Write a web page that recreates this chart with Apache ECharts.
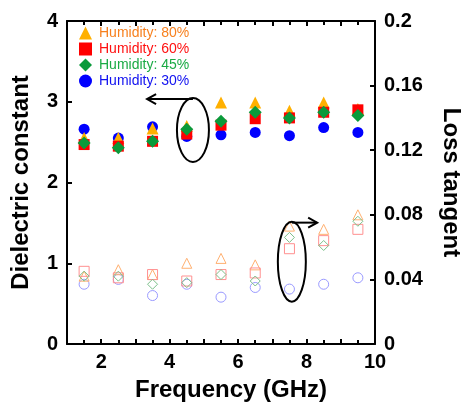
<!DOCTYPE html>
<html>
<head>
<meta charset="utf-8">
<script src="https://cdn.jsdelivr.net/npm/echarts@6/dist/echarts.min.js"></script>
<style>
    html, body { margin: 0; padding: 0; background: #fff; }
    #chart { width: 465px; height: 407px; }
</style>
</head>
<body>
<div id="chart"></div>
<script>
/* ------ data ------ */

var freq = [1.5, 2.5, 3.5, 4.5, 5.5, 6.5, 7.5, 8.5, 9.5];

// dielectric constant (filled markers, left axis)
var eps80 = [2.55, 2.55, 2.67, 2.70, 2.99, 2.99, 2.89, 2.99, 2.91];
var eps60 = [2.47, 2.45, 2.51, 2.60, 2.71, 2.79, 2.80, 2.87, 2.90];
var eps45 = [2.49, 2.43, 2.51, 2.66, 2.76, 2.87, 2.80, 2.87, 2.83];
var eps30 = [2.66, 2.55, 2.69, 2.57, 2.59, 2.62, 2.58, 2.68, 2.62];

// loss tangent (hollow markers, right axis)
var tan80 = [0.042, 0.046, 0.043, 0.050, 0.053, 0.049, 0.073, 0.071, 0.080];
var tan60 = [0.045, 0.041, 0.043, 0.039, 0.043, 0.044, 0.059, 0.064, 0.071];
var tan45 = [0.042, 0.042, 0.037, 0.038, 0.043, 0.039, 0.066, 0.061, 0.076];
var tan30 = [0.037, 0.040, 0.030, 0.037, 0.029, 0.035, 0.034, 0.037, 0.041];

var xTickLabels = ['2', '4', '6', '8', '10'];
var leftTickLabels = ['0', '1', '2', '3', '4'];
var rightTickLabels = ['0', '0.04', '0.08', '0.12', '0.16', '0.2'];

var names = ['Humidity: 80%', 'Humidity: 60%', 'Humidity: 45%', 'Humidity: 30%'];

/* ------ helpers ------ */

function pairs(xs, ys) {
    var out = [];
    for (var i = 0; i < xs.length; i++) {
        out.push([xs[i], ys[i]]);
    }
    return out;
}

var font = "'Liberation Sans', Arial, sans-serif";

function filled(name, symbol, size, color) {
    return {
        name: name,
        type: 'scatter',
        symbol: symbol,
        symbolSize: size,
        yAxisIndex: 0,
        itemStyle: { color: color, opacity: 1 },
        emphasis: { disabled: true },
        z: 3
    };
}

function hollow(name, symbol, size, color) {
    return {
        name: name,
        type: 'scatter',
        symbol: symbol,
        symbolSize: size,
        yAxisIndex: 1,
        itemStyle: { color: 'none', borderColor: color, borderWidth: 1, opacity: 1 },
        emphasis: { disabled: true },
        z: 2
    };
}

/* ------ chart ------ */

var chart = echarts.init(document.getElementById('chart'));

var s30 = filled(names[3], 'circle', 11, '#0000FF');
s30.data = pairs(freq, eps30);
var s80 = filled(names[0], 'triangle', 12, '#FFB000');
s80.data = pairs(freq, eps80);
var s60 = filled(names[1], 'rect', 11, '#FF0000');
s60.data = pairs(freq, eps60);
var s45 = filled(names[2], 'diamond', 13, '#0A9A3A');
s45.data = pairs(freq, eps45);

var h30 = hollow('tan 30', 'circle', 10, '#9A9AFF');
h30.data = pairs(freq, tan30);
var h80 = hollow('tan 80', 'triangle', 10, '#FFB070');
h80.data = pairs(freq, tan80);
var h60 = hollow('tan 60', 'rect', 10, '#FF9090');
h60.data = pairs(freq, tan60);
var h45 = hollow('tan 45', 'diamond', 10, '#7CC08A');
h45.data = pairs(freq, tan45);

var axisLine = { show: true, onZero: false, lineStyle: { color: '#000', width: 2 } };
var tick = { show: true, inside: true, length: 5, lineStyle: { color: '#000', width: 2 } };
var minor = { show: true, splitNumber: 2, length: 4, lineStyle: { color: '#000', width: 2 } };

option = {
    backgroundColor: '#fff',
    animation: false,
    textStyle: { fontFamily: font },
    grid: { left: 67, right: 90, top: 21, bottom: 63, outerBoundsMode: 'none', containLabel: false },
    legend: {
        orient: 'vertical',
        left: 74,
        top: 21,
        itemWidth: 13,
        itemHeight: 13,
        itemGap: 2,
        selectedMode: false,
        textStyle: { fontSize: 14, fontFamily: font, padding: [0, 0, 0, 2] },
        data: [
            { name: names[0], textStyle: { color: '#F7801E' } },
            { name: names[1], textStyle: { color: '#FF1010' } },
            { name: names[2], textStyle: { color: '#1AAA44' } },
            { name: names[3], textStyle: { color: '#1010F0' } }
        ]
    },
    xAxis: [
        {
            type: 'value',
            min: 1,
            max: 10,
            interval: 1,
            position: 'bottom',
            name: 'Frequency (GHz)',
            nameLocation: 'middle',
            nameGap: 34,
            nameTextStyle: { fontSize: 24, fontWeight: 'bold', color: '#000', fontFamily: font, padding: [0, 0, 0, 20] },
            axisLine: axisLine,
            axisTick: tick,
            minorTick: minor,
            splitLine: { show: false },
            axisLabel: {
                fontSize: 20, fontWeight: 'bold', color: '#000', margin: 8,
                formatter: function (v) {
                    var s = String(v);
                    return xTickLabels.indexOf(s) >= 0 ? s : '';
                }
            }
        },
        {
            type: 'value',
            min: 1,
            max: 10,
            interval: 1,
            position: 'top',
            axisLine: axisLine,
            axisTick: tick,
            minorTick: minor,
            splitLine: { show: false },
            axisLabel: { show: false }
        }
    ],
    yAxis: [
        {
            type: 'value',
            min: 0,
            max: 4,
            interval: 1,
            position: 'left',
            name: 'Dielectric constant',
            nameLocation: 'middle',
            nameRotate: 90,
            nameGap: 34,
            nameTextStyle: { fontSize: 24, fontWeight: 'bold', color: '#000', fontFamily: font },
            axisLine: axisLine,
            axisTick: tick,
            splitLine: { show: false },
            axisLabel: {
                fontSize: 20, fontWeight: 'bold', color: '#000', margin: 9,
                formatter: function (v) {
                    var s = String(v);
                    return leftTickLabels.indexOf(s) >= 0 ? s : '';
                }
            }
        },
        {
            type: 'value',
            min: 0,
            max: 0.2,
            interval: 0.04,
            position: 'right',
            name: 'Loss tangent',
            nameLocation: 'middle',
            nameRotate: -90,
            nameGap: 64,
            nameTextStyle: { fontSize: 24, fontWeight: 'bold', color: '#000', fontFamily: font },
            axisLine: axisLine,
            axisTick: tick,
            splitLine: { show: false },
            axisLabel: {
                fontSize: 20, fontWeight: 'bold', color: '#000', margin: 9,
                formatter: function (v) {
                    var s = String(+v.toFixed(2));
                    return rightTickLabels.indexOf(s) >= 0 ? s : '';
                }
            }
        }
    ],
    series: [h30, h80, h60, h45, s30, s80, s60, s45]
};
chart.setOption(option);

/* ------ annotations: ellipses + arrows ------ */

var c1 = chart.convertToPixel({ xAxisIndex: 0, yAxisIndex: 0 }, [4.68, 2.65]);
var a1 = chart.convertToPixel({ xAxisIndex: 0, yAxisIndex: 0 }, [3.34, 2.65]);
var c2 = chart.convertToPixel({ xAxisIndex: 0, yAxisIndex: 0 }, [7.57, 1.02]);
var a2 = chart.convertToPixel({ xAxisIndex: 0, yAxisIndex: 0 }, [8.31, 1.02]);

var rx1 = 16, ry1 = 32, rx2 = 14, ry2 = 40;
var y1 = c1[1] - ry1 + 1;
var y2 = c2[1] - ry2 + 1;
var stroke = { stroke: '#000', lineWidth: 2, fill: null };

chart.setOption({
    graphic: [
        { type: 'ellipse', shape: { cx: c1[0], cy: c1[1], rx: rx1, ry: ry1 }, style: stroke, z: 10 },
        { type: 'polyline', shape: { points: [[c1[0], y1], [a1[0], y1]] }, style: stroke, z: 10 },
        { type: 'polyline', shape: { points: [[a1[0] + 9, y1 - 5], [a1[0], y1], [a1[0] + 9, y1 + 5]] }, style: stroke, z: 10 },
        { type: 'ellipse', shape: { cx: c2[0], cy: c2[1], rx: rx2, ry: ry2 }, style: stroke, z: 10 },
        { type: 'polyline', shape: { points: [[c2[0], y2], [a2[0], y2]] }, style: stroke, z: 10 },
        { type: 'polyline', shape: { points: [[a2[0] - 9, y2 - 5], [a2[0], y2], [a2[0] - 9, y2 + 5]] }, style: stroke, z: 10 }
    ]
});
</script>
</body>
</html>
